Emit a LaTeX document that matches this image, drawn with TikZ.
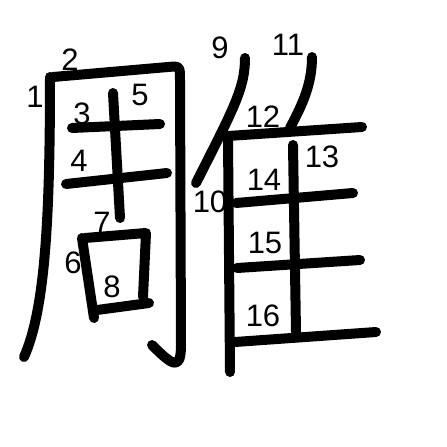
\documentclass[tikz,border=0pt]{standalone}
\usepackage{fontspec}
\setmainfont{Liberation Sans}
\usepackage{tikz}

\tikzset{
  stroke/.style={line width=10pt,line cap=round,line join=round},
  numlabel/.style={font=\fontsize{31}{31}\selectfont,inner sep=0pt}
}

\begin{document}
\begin{tikzpicture}[x=1pt,y=-1pt]
  \path[use as bounding box] (0,0) rectangle (447,447);

  % left part
  \begin{scope}
    \draw[stroke] (50,77) .. controls (50,220) and (45,310) .. (24,357);
    \draw[stroke] (53,77) -- (168,67) .. controls (180,66) .. (180,80) -- (181,345) .. controls (181,372) and (172,365) .. (152,345);
    \draw[stroke] (72,128) -- (160,124);
    \draw[stroke] (66,184) -- (167,173);
    \draw[stroke] (113,93) -- (120,218);
    \draw[stroke] (82,238) -- (94,318);
    \draw[stroke] (85,238) -- (146,233) -- (143,297);
    \draw[stroke] (97,310) -- (149,303);

    \node[numlabel] (n1) at (35,97) {1};
    \node[numlabel] (n2) at (70,60) {2};
    \node[numlabel] (n3) at (82,114) {3};
    \node[numlabel] (n4) at (79,161) {4};
    \node[numlabel] (n5) at (140,95) {5};
    \node[numlabel] (n6) at (73,263) {6};
    \node[numlabel] (n7) at (102,223) {7};
    \node[numlabel] (n8) at (112,287) {8};
  \end{scope}

  % right part
  \begin{scope}
    \draw[stroke] (245,58) .. controls (245,88) and (234,108) .. (196,183);
    \draw[stroke] (228,138) -- (230,372);
    \draw[stroke] (312,57) .. controls (312,85) and (302,105) .. (290,128);
    \draw[stroke] (228,136) -- (362,127);
    \draw[stroke] (293,145) -- (296,332);
    \draw[stroke] (236,203) -- (353,193);
    \draw[stroke] (237,268) -- (360,260);
    \draw[stroke] (235,342) -- (376,332);

    \node[numlabel] (n9) at (220,48) {9};
    \node[numlabel] (n10) at (210,202) {10};
    \node[numlabel] (n11) at (288,45) {11};
    \node[numlabel] (n12) at (263,117) {12};
    \node[numlabel] (n13) at (322,157) {13};
    \node[numlabel] (n14) at (264,180) {14};
    \node[numlabel] (n15) at (265,243) {15};
    \node[numlabel] (n16) at (263,316) {16};
  \end{scope}
\end{tikzpicture}
\end{document}
